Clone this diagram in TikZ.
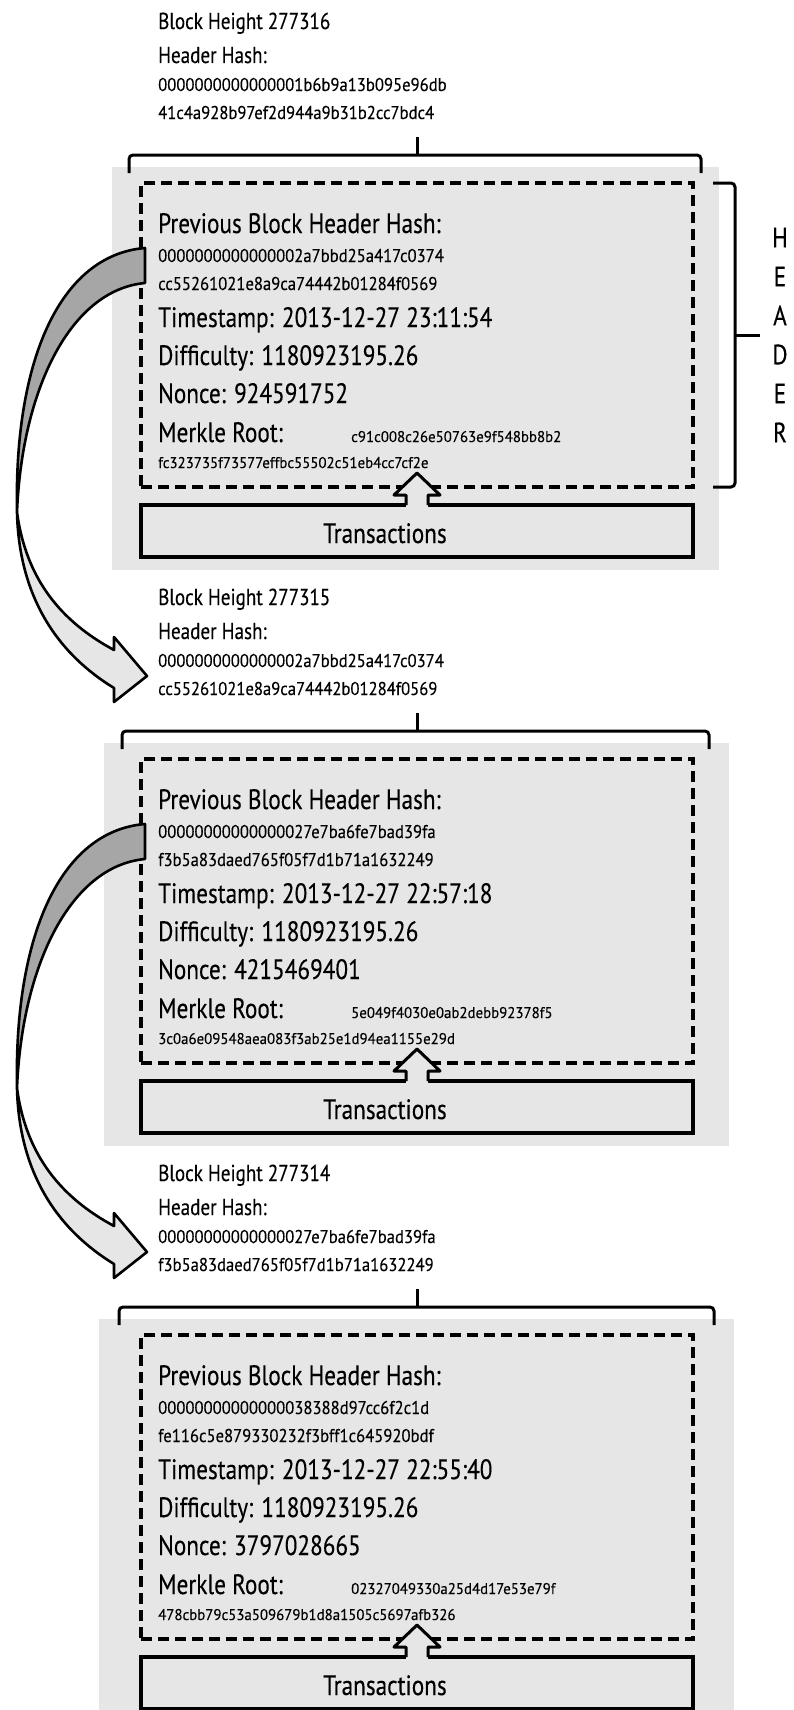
\documentclass[tikz,border=0pt]{standalone}
\usepackage{fontspec}
\setmainfont{PT Sans}[FakeStretch=0.83,FakeBold=0.25]
\newfontfamily\hashfont{PT Sans}[FakeStretch=0.9,FakeBold=0.25]
\newfontfamily\rootfont{PT Sans}[FakeStretch=0.96,FakeBold=0.2]
\usetikzlibrary{calc,positioning}
\definecolor{blockgray}{HTML}{E6E6E6}
\definecolor{ribbongray}{HTML}{A6A6A6}

\begin{document}
\begin{tikzpicture}[x=1pt,y=-1pt,
  fieldtxt/.style={anchor=base west,inner sep=0pt,font=\fontsize{28}{30}\selectfont},
  toptxt/.style={anchor=base west,inner sep=0pt,font=\fontsize{23}{25}\selectfont},
  hashtxt/.style={anchor=base west,inner sep=0pt,font=\hashfont\fontsize{18.5}{20}\selectfont},
  roottxt/.style={anchor=base west,inner sep=0pt,font=\rootfont\fontsize{15.5}{17}\selectfont},
  hdrbox/.style={draw,line width=3.5pt,dash pattern=on 11pt off 6pt,outer sep=0pt,
                 minimum width=552pt,minimum height=304pt,inner sep=0pt},
  txbox/.style={draw,line width=3.5pt,outer sep=0pt,
                minimum width=552pt,minimum height=52pt,inner sep=0pt},
  brace/.style={line width=3pt,rounded corners=4pt},
  ribbon/.style={draw,line width=2.6pt,line join=round}]
  \useasboundingbox (0,0) rectangle (794,1710);
  % panels, braces, header boxes and transactions
  \foreach \o/\gl/\gr/\bl/\br/\n in {0/112/719/129/701/1,576/104/729/122/709/2,1152/99/734/119/714/3}{
    \fill[blockgray] (\gl,\o+167) rectangle (\gr,\o+570);
    \draw[brace] (\bl,\o+173) -- (\bl,\o+155) -- (\br,\o+155) -- (\br,\o+173);
    \draw[brace] (417,\o+155) -- (417,\o+137);
    \node[hdrbox] (hdr\n) at (417,\o+335) {};
    \node[txbox] (tx\n) at (417,\o+531) {};
    \node[fieldtxt,anchor=base] (txt\n) at (385,\o+543) {Transactions};
    \fill[blockgray] ($(tx\n.north)+(-11,2)$) -- ++(0,-12) -- ++(-12,0) -- ++(23,-22)
      -- ++(23,22) -- ++(-12,0) -- ++(0,12) -- cycle;
    \draw[line width=3pt,line join=round] ($(tx\n.north)+(-11,0)$) -- ++(0,-10) -- ++(-12,0)
      -- ++(23,-22) -- ++(23,22) -- ++(-12,0) -- ++(0,10);
  }

  % block 277316
  \node[toptxt] (ht1) at (158,29) {Block Height 277316};
  \node[toptxt] (hh1) at (158,63) {Header Hash:};
  \node[hashtxt] (hha1) at (158,91) {0000000000000001b6b9a13b095e96db};
  \node[hashtxt] (hhb1) at (158,119) {41c4a928b97ef2d944a9b31b2cc7bdc4};
  \node[fieldtxt] (prev1) at (158,233) {Previous Block Header Hash:};
  \node[hashtxt] (pa1) at (158,262) {0000000000000002a7bbd25a417c0374};
  \node[hashtxt] (pb1) at (158,290) {cc55261021e8a9ca74442b01284f0569};
  \node[fieldtxt] (ts1) at (158,327) {Timestamp: 2013-12-27 23:11:54};
  \node[fieldtxt] (df1) at (158,365) {Difficulty: 1180923195.26};
  \node[fieldtxt] (nc1) at (158,403) {Nonce: 924591752};
  \node[fieldtxt] (mr1) at (158,442) {Merkle Root:};
  \node[roottxt] (mra1) at (351,442) {c91c008c26e50763e9f548bb8b2};
  \node[roottxt] (mrb1) at (158,468) {fc323735f73577effbc55502c51eb4cc7cf2e};

  % block 277315
  \node[toptxt] (ht2) at (158,605) {Block Height 277315};
  \node[toptxt] (hh2) at (158,639) {Header Hash:};
  \node[hashtxt] (hha2) at (158,667) {0000000000000002a7bbd25a417c0374};
  \node[hashtxt] (hhb2) at (158,695) {cc55261021e8a9ca74442b01284f0569};
  \node[fieldtxt] (prev2) at (158,809) {Previous Block Header Hash:};
  \node[hashtxt] (pa2) at (158,838) {00000000000000027e7ba6fe7bad39fa};
  \node[hashtxt] (pb2) at (158,866) {f3b5a83daed765f05f7d1b71a1632249};
  \node[fieldtxt] (ts2) at (158,903) {Timestamp: 2013-12-27 22:57:18};
  \node[fieldtxt] (df2) at (158,941) {Difficulty: 1180923195.26};
  \node[fieldtxt] (nc2) at (158,979) {Nonce: 4215469401};
  \node[fieldtxt] (mr2) at (158,1018) {Merkle Root:};
  \node[roottxt] (mra2) at (351,1018) {5e049f4030e0ab2debb92378f5};
  \node[roottxt] (mrb2) at (158,1044) {3c0a6e09548aea083f3ab25e1d94ea1155e29d};

  % block 277314
  \node[toptxt] (ht3) at (158,1181) {Block Height 277314};
  \node[toptxt] (hh3) at (158,1215) {Header Hash:};
  \node[hashtxt] (hha3) at (158,1243) {00000000000000027e7ba6fe7bad39fa};
  \node[hashtxt] (hhb3) at (158,1271) {f3b5a83daed765f05f7d1b71a1632249};
  \node[fieldtxt] (prev3) at (158,1385) {Previous Block Header Hash:};
  \node[hashtxt] (pa3) at (158,1414) {00000000000000038388d97cc6f2c1d};
  \node[hashtxt] (pb3) at (158,1442) {fe116c5e879330232f3bff1c645920bdf};
  \node[fieldtxt] (ts3) at (158,1479) {Timestamp: 2013-12-27 22:55:40};
  \node[fieldtxt] (df3) at (158,1517) {Difficulty: 1180923195.26};
  \node[fieldtxt] (nc3) at (158,1555) {Nonce: 3797028665};
  \node[fieldtxt] (mr3) at (158,1594) {Merkle Root:};
  \node[roottxt] (mra3) at (351,1594) {02327049330a25d4d17e53e79f};
  \node[roottxt] (mrb3) at (158,1620) {478cbb79c53a509679b1d8a1505c5697afb326};

  % header brace
  \draw[brace] ($(hdr1.north east)+(20,0)$) -- ++(22,0) -- ($(hdr1.south east)+(42,0)$) -- ++(-22,0);
  \draw[brace] ($(hdr1.east)+(42,0)$) -- ++(25,0);
  \node[font=\fontsize{28}{39}\selectfont,align=center,inner sep=0pt] (hdrlbl) at (780,335) {H\\E\\A\\D\\E\\R};

  % twisted links from previous hash to the older block
  \foreach \o in {0,576}{
    \begin{scope}[shift={(0,\o)}]
      \filldraw[ribbon,fill=blockgray] (17,512) .. controls (19,600) and (60,655) .. (114,688)
        -- (114,702) -- (147,676) -- (114,637) -- (114,650)
        .. controls (62,622) and (26,580) .. (17,512) -- cycle;
      \filldraw[ribbon,fill=ribbongray] (145,248) .. controls (60,255) and (14,360) .. (17,512)
        .. controls (22,390) and (70,290) .. (145,283) -- cycle;
    \end{scope}
  }
\end{tikzpicture}
\end{document}
